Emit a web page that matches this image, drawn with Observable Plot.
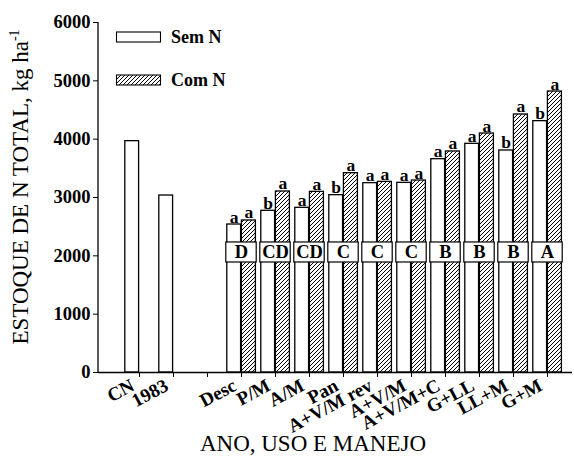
<!DOCTYPE html>
<html>
<head>
<meta charset="utf-8">
<script src="https://cdn.jsdelivr.net/npm/d3@7"></script>
<script src="https://cdn.jsdelivr.net/npm/@observablehq/plot@0.6"></script>
<style>
  html, body { margin: 0; padding: 0; background: #fff; }
  svg { font-family: "Liberation Serif", "Times New Roman", serif; }
</style>
</head>
<body>
<div id="chart"></div>
<script>
// ---- data ----
const categories = ["CN", "1983", "", "Desc", "P/M", "A/M", "Pan", "A+V/M rev", "A+V/M", "A+V/M+C", "G+LL", "LL+M", "G+M"];
const semN = [3966, 3034, null, 2537, 2772, 2823, 3040, 3246, 3251, 3657, 3920, 3806, 4309];
const comN = [null, null, null, 2606, 3103, 3097, 3417, 3268, 3291, 3789, 4097, 4423, 4817];
const semLetters = [null, null, null, "a", "b", "a", "b", "a", "a", "a", "a", "b", "b"];
const comLetters = [null, null, null, "a", "a", "a", "a", "a", "a", "a", "a", "a", "a"];
const groupLetters = [null, null, null, "D", "CD", "CD", "C", "C", "C", "B", "B", "B", "A"];
const yTicks = [0, 1000, 2000, 3000, 4000, 5000, 6000];
const refCategories = ["CN", "1983"];
const seriesNames = ["Sem N", "Com N"];

const semData = categories.map((c, i) => ({cat: c, v: semN[i], l: semLetters[i]})).filter(d => d.v != null);
const comData = categories.map((c, i) => ({cat: c, v: comN[i], l: comLetters[i]})).filter(d => d.v != null);
const boxData = categories.map((c, i) => ({cat: c, g: groupLetters[i]})).filter(d => d.g != null);
const refData = refCategories.map(c => ({cat: c, v: semN[categories.indexOf(c)]}));

const W = 574, H = 464;
const mL = 98, mR = 2, mT = 22, mB = 92;
const first = 134, last = 552;
const step = (last - first) / (categories.length - 1);
const half = step / 2;
const font = "'Liberation Serif', 'Times New Roman', serif";

const chart = Plot.plot({
  width: W,
  height: H,
  marginLeft: mL,
  marginRight: mR,
  marginTop: mT,
  marginBottom: mB,
  style: {fontFamily: font, background: "#fff"},
  x: {domain: categories, type: "band", padding: 0, range: [first - half, last + half], label: null},
  y: {domain: [0, 6000], label: null},
  marks: [
    // bars
    Plot.barY(semData, {x: "cat", y: "v", fill: "#fff", stroke: "#000", strokeWidth: 1.3, insetLeft: 2.8, insetRight: half}),
    Plot.barY(comData, {x: "cat", y: "v", fill: "url(#hatch)", stroke: "#000", strokeWidth: 1.3, insetLeft: half, insetRight: 2.6}),
    // reference dotted lines
    Plot.ruleY(refData, {x1: "cat", y: "v", insetLeft: half, stroke: "#333", strokeWidth: 0.9, strokeDasharray: "1,1.5"}),
    // group boxes
    Plot.barY(boxData, {x: "cat", y1: 1886, y2: 2229, fill: "#fff", stroke: "#000", strokeWidth: 1.2, insetLeft: 1.8, insetRight: 1.8}),
    Plot.text(boxData, {x: "cat", y: 2057, text: "g", fontSize: 18.5, fontWeight: "bold", fill: "#000"}),
    // letters above bars
    Plot.text(semData.filter(d => d.l), {x: "cat", y: "v", text: "l", dx: -7.4, dy: -2, lineAnchor: "bottom", fontSize: 17.5, fontWeight: "bold", fill: "#000"}),
    Plot.text(comData.filter(d => d.l), {x: "cat", y: "v", text: "l", dx: 7.3, dy: -2, lineAnchor: "bottom", fontSize: 17.5, fontWeight: "bold", fill: "#000"}),
    // axes
    Plot.axisY({ticks: yTicks, tickFormat: d => String(d), tickSize: 5, tickPadding: 3, fontSize: 18.5, fontWeight: "bold", fill: "#000", stroke: "#000", label: null}),
    Plot.axisX({tickSize: 5, tickFormat: () => "", stroke: "#000", label: null}),
    Plot.axisX({tickSize: 0, tickPadding: 0, tickRotate: -28, dx: -6.7, dy: 11.7, fontSize: 19, fontWeight: "bold", fill: "#000", textAnchor: "end", lineAnchor: "middle", label: null}),
    Plot.ruleY([0], {stroke: "#000", strokeWidth: 1.3})
  ]
});

const svg = d3.select(chart);
// hatch pattern
const defs = svg.insert("defs", ":first-child");
const pat = defs.append("pattern").attr("id", "hatch").attr("patternUnits", "userSpaceOnUse").attr("width", 4).attr("height", 4);
pat.append("rect").attr("width", 4).attr("height", 4).attr("fill", "#fff");
pat.append("path").attr("d", "M-1,1 l2,-2 M0,4 l4,-4 M3,5 l2,-2").attr("stroke", "#000").attr("stroke-width", 1);

// left axis line
svg.append("line").attr("x1", mL).attr("x2", mL).attr("y1", mT).attr("y2", H - mB).attr("stroke", "#000").attr("stroke-width", 1.3);

// legend
const lg = svg.append("g").attr("font-family", font).attr("font-weight", "bold").attr("font-size", 18).attr("text-anchor", "start");
seriesNames.forEach((name, i) => {
  const yy = i === 0 ? 32 : 75;
  lg.append("rect").attr("x", 116.5).attr("y", yy).attr("width", 44).attr("height", 10)
    .attr("fill", i === 0 ? "#fff" : "url(#hatch)").attr("stroke", "#000").attr("stroke-width", 1.1);
  lg.append("text").attr("x", 171).attr("y", yy + 11).text(name);
});

// y axis title
const yt = svg.append("text").attr("font-family", font).attr("font-size", 23)
  .attr("transform", `translate(28,187) rotate(-90)`).attr("text-anchor", "middle");
yt.append("tspan").text("ESTOQUE DE N TOTAL, kg ha");
yt.append("tspan").attr("font-size", 14).attr("dy", -9).text("-1");

// x axis title
svg.append("text").attr("font-family", font).attr("font-size", 23).attr("x", 313).attr("y", 451)
  .attr("text-anchor", "middle").text("ANO, USO E MANEJO");

document.getElementById("chart").appendChild(chart);
</script>
</body>
</html>
